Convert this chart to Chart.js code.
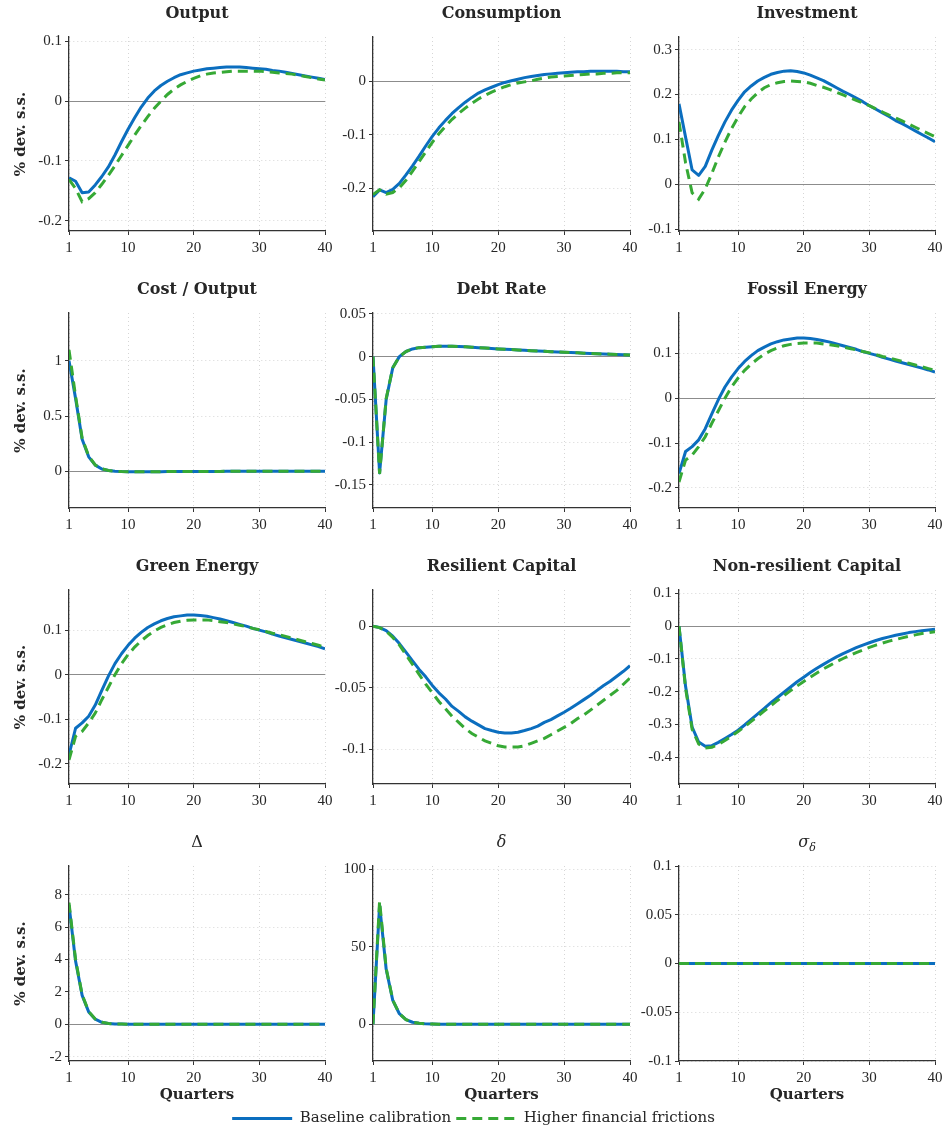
<!DOCTYPE html>
<html>
<head>
<meta charset="utf-8">
<script src="https://cdn.jsdelivr.net/npm/chart.js@4.4.1/dist/chart.umd.min.js"></script>
<style>
  html, body { margin: 0; padding: 0; background: #fff; }
  #fig { position: relative; width: 947px; height: 1131px; overflow: hidden; }
  #fig canvas { position: absolute; }
</style>
</head>
<body>
<div id="fig"></div>
<script>
const quarters = [1, 2, 3, 4, 5, 6, 7, 8, 9, 10, 11, 12, 13, 14, 15, 16, 17, 18, 19, 20,
                  21, 22, 23, 24, 25, 26, 27, 28, 29, 30, 31, 32, 33, 34, 35, 36, 37, 38, 39, 40];
const seriesNames = ['Baseline calibration', 'Higher financial frictions'];
const xTicks = [1, 10, 20, 30, 40];

// Output
const outputBase = [-0.128, -0.134, -0.153, -0.152, -0.140, -0.126, -0.110, -0.090, -0.068, -0.047,
                    -0.028, -0.010, 0.005, 0.017, 0.026, 0.033, 0.039, 0.044, 0.047, 0.050,
                    0.052, 0.054, 0.055, 0.056, 0.057, 0.057, 0.057, 0.056, 0.055, 0.054,
                    0.053, 0.051, 0.050, 0.048, 0.046, 0.044, 0.042, 0.040, 0.038, 0.036];
const outputHigh = [-0.131, -0.146, -0.168, -0.163, -0.153, -0.139, -0.124, -0.108, -0.091, -0.074,
                    -0.057, -0.041, -0.026, -0.012, 0.000, 0.011, 0.020, 0.027, 0.033, 0.038,
                    0.042, 0.045, 0.047, 0.048, 0.049, 0.050, 0.050, 0.050, 0.050, 0.050,
                    0.049, 0.048, 0.047, 0.046, 0.045, 0.043, 0.041, 0.039, 0.037, 0.035];
const outputTicks = [-0.2, -0.1, 0, 0.1];

// Consumption
const consBase = [-0.216, -0.203, -0.208, -0.202, -0.191, -0.175, -0.158, -0.140, -0.121, -0.103,
                  -0.087, -0.073, -0.060, -0.049, -0.039, -0.030, -0.022, -0.016, -0.011, -0.006,
                  -0.002, 0.001, 0.004, 0.007, 0.009, 0.011, 0.013, 0.014, 0.015, 0.016,
                  0.017, 0.018, 0.018, 0.019, 0.019, 0.019, 0.019, 0.019, 0.018, 0.018];
const consHigh = [-0.212, -0.203, -0.211, -0.208, -0.199, -0.185, -0.168, -0.150, -0.132, -0.114,
                  -0.098, -0.084, -0.071, -0.060, -0.050, -0.041, -0.033, -0.026, -0.020, -0.015,
                  -0.010, -0.006, -0.003, -0.001, 0.001, 0.004, 0.006, 0.008, 0.009, 0.010,
                  0.011, 0.012, 0.013, 0.014, 0.014, 0.015, 0.015, 0.016, 0.016, 0.016];
const consTicks = [-0.2, -0.1, 0];

// Investment
const invBase = [0.179, 0.105, 0.032, 0.020, 0.040, 0.076, 0.109, 0.139, 0.165, 0.187,
                 0.206, 0.219, 0.230, 0.238, 0.245, 0.249, 0.252, 0.253, 0.251, 0.248,
                 0.243, 0.237, 0.231, 0.223, 0.215, 0.207, 0.200, 0.192, 0.184, 0.175,
                 0.167, 0.159, 0.151, 0.142, 0.135, 0.127, 0.119, 0.111, 0.103, 0.095];
const invHigh = [0.139, 0.048, -0.019, -0.033, -0.010, 0.024, 0.061, 0.094, 0.124, 0.150,
                 0.173, 0.190, 0.204, 0.215, 0.222, 0.226, 0.229, 0.230, 0.229, 0.228,
                 0.225, 0.220, 0.216, 0.211, 0.205, 0.199, 0.193, 0.187, 0.181, 0.175,
                 0.168, 0.161, 0.154, 0.148, 0.141, 0.134, 0.127, 0.120, 0.113, 0.106];
const invTicks = [-0.1, 0, 0.1, 0.2, 0.3];

// Cost / Output
const costBase = [1.00, 0.66, 0.29, 0.13, 0.055, 0.020, 0.006, 0.000, -0.004, -0.005,
                  -0.006, -0.006, -0.006, -0.005, -0.005, -0.004, -0.004, -0.003, -0.003, -0.003,
                  -0.002, -0.002, -0.002, -0.002, -0.001, -0.001, -0.001, -0.001, -0.001, -0.001,
                  0.000, 0.000, 0.000, 0.000, 0.000, 0.000, 0.000, 0.000, 0.000, 0.000];
const costHigh = [1.10, 0.68, 0.30, 0.135, 0.056, 0.021, 0.006, 0.000, -0.004, -0.005,
                  -0.006, -0.006, -0.006, -0.005, -0.005, -0.004, -0.004, -0.003, -0.003, -0.003,
                  -0.002, -0.002, -0.002, -0.002, -0.001, -0.001, -0.001, -0.001, -0.001, -0.001,
                  0.000, 0.000, 0.000, 0.000, 0.000, 0.000, 0.000, 0.000, 0.000, 0.000];
const costTicks = [0, 0.5, 1];

// Debt Rate
const debtBase = [0.000, -0.136, -0.050, -0.013, 0.000, 0.006, 0.009, 0.0105, 0.011, 0.0115,
                  0.012, 0.012, 0.012, 0.0118, 0.0114, 0.011, 0.0105, 0.010, 0.0095, 0.009,
                  0.0086, 0.0082, 0.0078, 0.0074, 0.007, 0.0066, 0.0062, 0.0058, 0.0054, 0.005,
                  0.0047, 0.0044, 0.004, 0.0037, 0.0034, 0.0031, 0.0028, 0.0025, 0.0022, 0.002];
const debtHigh = [0.000, -0.137, -0.049, -0.013, 0.000, 0.006, 0.009, 0.0105, 0.011, 0.0115,
                  0.012, 0.012, 0.012, 0.0118, 0.0114, 0.011, 0.0105, 0.010, 0.0095, 0.009,
                  0.0086, 0.0082, 0.0078, 0.0074, 0.007, 0.0066, 0.0062, 0.0058, 0.0054, 0.005,
                  0.0047, 0.0044, 0.004, 0.0037, 0.0034, 0.0031, 0.0028, 0.0025, 0.0022, 0.002];
const debtTicks = [-0.15, -0.1, -0.05, 0, 0.05];

// Fossil Energy
const fossilBase = [-0.168, -0.119, -0.108, -0.093, -0.068, -0.035, -0.003, 0.025, 0.047, 0.066,
                    0.082, 0.095, 0.106, 0.114, 0.121, 0.126, 0.130, 0.132, 0.134, 0.134,
                    0.133, 0.131, 0.128, 0.125, 0.121, 0.117, 0.113, 0.109, 0.104, 0.100,
                    0.096, 0.091, 0.087, 0.083, 0.079, 0.075, 0.071, 0.067, 0.063, 0.058];
const fossilHigh = [-0.187, -0.138, -0.127, -0.108, -0.086, -0.056, -0.028, 0.000, 0.025, 0.045,
                    0.062, 0.076, 0.088, 0.098, 0.106, 0.112, 0.117, 0.120, 0.122, 0.123,
                    0.123, 0.123, 0.121, 0.119, 0.117, 0.114, 0.111, 0.108, 0.104, 0.101,
                    0.097, 0.093, 0.090, 0.086, 0.082, 0.078, 0.074, 0.070, 0.066, 0.062];
const fossilTicks = [-0.2, -0.1, 0, 0.1];

// Green Energy
const greenBase = [-0.180, -0.120, -0.108, -0.093, -0.068, -0.035, -0.003, 0.025, 0.047, 0.066,
                   0.082, 0.095, 0.106, 0.114, 0.121, 0.126, 0.130, 0.132, 0.134, 0.134,
                   0.133, 0.131, 0.128, 0.125, 0.121, 0.117, 0.113, 0.109, 0.104, 0.100,
                   0.096, 0.091, 0.087, 0.083, 0.079, 0.075, 0.071, 0.067, 0.063, 0.058];
const greenHigh = [-0.191, -0.138, -0.127, -0.108, -0.086, -0.056, -0.028, 0.000, 0.025, 0.045,
                   0.062, 0.076, 0.088, 0.098, 0.106, 0.112, 0.117, 0.120, 0.122, 0.123,
                   0.123, 0.123, 0.121, 0.119, 0.117, 0.114, 0.111, 0.108, 0.104, 0.101,
                   0.097, 0.093, 0.090, 0.086, 0.082, 0.078, 0.074, 0.070, 0.066, 0.062];
const greenTicks = [-0.2, -0.1, 0, 0.1];

// Resilient Capital
const resBase = [0.000, -0.001, -0.0035, -0.008, -0.014, -0.021, -0.028, -0.035, -0.041, -0.048,
                 -0.054, -0.059, -0.065, -0.069, -0.0735, -0.077, -0.080, -0.083, -0.0846, -0.086,
                 -0.0865, -0.0865, -0.086, -0.0846, -0.083, -0.081, -0.078, -0.0757, -0.0727, -0.0697,
                 -0.0665, -0.063, -0.0595, -0.056, -0.052, -0.048, -0.0446, -0.0405, -0.0365, -0.032];
const resHigh = [0.000, -0.001, -0.004, -0.009, -0.015, -0.023, -0.031, -0.039, -0.047, -0.054,
                 -0.061, -0.067, -0.073, -0.078, -0.083, -0.087, -0.090, -0.093, -0.095, -0.097,
                 -0.098, -0.098, -0.098, -0.097, -0.095, -0.093, -0.091, -0.088, -0.085, -0.082,
                 -0.079, -0.075, -0.072, -0.068, -0.064, -0.060, -0.056, -0.052, -0.047, -0.042];
const resTicks = [-0.1, -0.05, 0];

// Non-resilient Capital
const nonresBase = [0.000, -0.184, -0.308, -0.354, -0.367, -0.365, -0.355, -0.343, -0.331, -0.318,
                    -0.302, -0.285, -0.268, -0.251, -0.234, -0.218, -0.202, -0.186, -0.170, -0.156,
                    -0.142, -0.129, -0.117, -0.105, -0.094, -0.084, -0.075, -0.066, -0.058, -0.051,
                    -0.044, -0.038, -0.033, -0.028, -0.024, -0.020, -0.017, -0.014, -0.012, -0.010];
const nonresHigh = [0.000, -0.190, -0.315, -0.360, -0.372, -0.370, -0.361, -0.349, -0.336, -0.322,
                    -0.307, -0.291, -0.275, -0.259, -0.243, -0.227, -0.212, -0.197, -0.183, -0.169,
                    -0.156, -0.143, -0.131, -0.120, -0.109, -0.099, -0.090, -0.081, -0.073, -0.065,
                    -0.058, -0.052, -0.046, -0.041, -0.036, -0.031, -0.027, -0.023, -0.020, -0.017];
const nonresTicks = [-0.4, -0.3, -0.2, -0.1, 0, 0.1];

// Delta (capital letter)
const bigDeltaBase = [7.35, 3.90, 1.78, 0.76, 0.31, 0.12, 0.05, 0.02, 0.01, 0,
                      0, 0, 0, 0, 0, 0, 0, 0, 0, 0,
                      0, 0, 0, 0, 0, 0, 0, 0, 0, 0,
                      0, 0, 0, 0, 0, 0, 0, 0, 0, 0];
const bigDeltaHigh = [7.50, 4.00, 1.82, 0.78, 0.32, 0.13, 0.05, 0.02, 0.01, 0,
                      0, 0, 0, 0, 0, 0, 0, 0, 0, 0,
                      0, 0, 0, 0, 0, 0, 0, 0, 0, 0,
                      0, 0, 0, 0, 0, 0, 0, 0, 0, 0];
const bigDeltaTicks = [-2, 0, 2, 4, 6, 8];

// delta (small letter)
const deltaBase = [0, 77.0, 35.5, 15.4, 6.8, 3.0, 1.3, 0.6, 0.25, 0.1,
                   0, 0, 0, 0, 0, 0, 0, 0, 0, 0,
                   0, 0, 0, 0, 0, 0, 0, 0, 0, 0,
                   0, 0, 0, 0, 0, 0, 0, 0, 0, 0];
const deltaHigh = [0, 79.4, 36.1, 15.6, 6.9, 3.0, 1.3, 0.6, 0.25, 0.1,
                   0, 0, 0, 0, 0, 0, 0, 0, 0, 0,
                   0, 0, 0, 0, 0, 0, 0, 0, 0, 0,
                   0, 0, 0, 0, 0, 0, 0, 0, 0, 0];
const deltaTicks = [0, 50, 100];

// sigma_delta
const sigmaBase = [0, 0, 0, 0, 0, 0, 0, 0, 0, 0,
                   0, 0, 0, 0, 0, 0, 0, 0, 0, 0,
                   0, 0, 0, 0, 0, 0, 0, 0, 0, 0,
                   0, 0, 0, 0, 0, 0, 0, 0, 0, 0];
const sigmaHigh = [0, 0, 0, 0, 0, 0, 0, 0, 0, 0,
                   0, 0, 0, 0, 0, 0, 0, 0, 0, 0,
                   0, 0, 0, 0, 0, 0, 0, 0, 0, 0,
                   0, 0, 0, 0, 0, 0, 0, 0, 0, 0];
const sigmaTicks = [-0.1, -0.05, 0, 0.05, 0.1];

const BLUE = '#0b6ebf';
const GREEN = '#36a935';
const TEXT = '#262626';
const SERIF = "'Liberation Serif', 'DejaVu Serif', serif";
const DJ = "'DejaVu Serif', serif";

const panels = [
    { title: 'Output', base: outputBase, high: outputHigh, ticks: outputTicks, range: [-0.217, 0.107] },
    { title: 'Consumption', base: consBase, high: consHigh, ticks: consTicks, range: [-0.28, 0.083] },
    { title: 'Investment', base: invBase, high: invHigh, ticks: invTicks, range: [-0.104, 0.328] },
    { title: 'Cost / Output', base: costBase, high: costHigh, ticks: costTicks, range: [-0.334, 1.434] },
    { title: 'Debt Rate', base: debtBase, high: debtHigh, ticks: debtTicks, range: [-0.177, 0.051] },
    { title: 'Fossil Energy', base: fossilBase, high: fossilHigh, ticks: fossilTicks, range: [-0.245, 0.19] },
    { title: 'Green Energy', base: greenBase, high: greenHigh, ticks: greenTicks, range: [-0.245, 0.19] },
    { title: 'Resilient Capital', base: resBase, high: resHigh, ticks: resTicks, range: [-0.128, 0.0295] },
    { title: 'Non-resilient Capital', base: nonresBase, high: nonresHigh, ticks: nonresTicks, range: [-0.482, 0.11] },
    { title: 'Δ', font: '16px ' + DJ, base: bigDeltaBase, high: bigDeltaHigh, ticks: bigDeltaTicks, range: [-2.27, 9.77] },
    { title: 'δ', font: 'italic 16px ' + DJ, base: deltaBase, high: deltaHigh, ticks: deltaTicks, range: [-23.7, 102.1] },
    { title: 'σ', sub: 'δ', font: 'italic 16px ' + DJ, base: sigmaBase, high: sigmaHigh, ticks: sigmaTicks, range: [-0.1, 0.1] }
];

// plot-area edges in the figure
const colLeft = [69, 373, 679];
const colRight = [325, 630, 935];
const rowTop = [37, 313, 590, 866];
const rowBottom = [231, 508, 784, 1061];

// draws the panel heading centred over the plot area
const panelTitle = {
    id: 'panelTitle',
    afterDraw(chart, args, opts) {
        const { ctx, chartArea } = chart;
        const cx = (chartArea.left + chartArea.right) / 2;
        const y = chartArea.top - 23;
        ctx.save();
        ctx.fillStyle = TEXT;
        ctx.textBaseline = 'middle';
        ctx.font = opts.font;
        if (opts.sub) {
            const w1 = ctx.measureText(opts.text).width;
            ctx.font = opts.subFont;
            const w2 = ctx.measureText(opts.sub).width;
            const x0 = cx - (w1 + w2) / 2;
            ctx.textAlign = 'left';
            ctx.font = opts.font;
            ctx.fillText(opts.text, x0, y);
            ctx.font = opts.subFont;
            ctx.fillText(opts.sub, x0 + w1, y + 5);
        } else {
            ctx.textAlign = 'center';
            ctx.fillText(opts.text, cx, y);
        }
        ctx.restore();
    }
};

function toPoints(values) {
    return quarters.map((q, i) => ({ x: q, y: values[i] }));
}

const fig = document.getElementById('fig');

panels.forEach((p, i) => {
    const r = Math.floor(i / 3);
    const c = i % 3;
    const firstCol = c === 0;
    const lastRow = r === 3;
    const canvasLeft = firstCol ? 0 : colLeft[c] - 62;
    const yAxisW = colLeft[c] - canvasLeft;
    const padTop = 34;
    const padRight = c === 2 ? 12 : 14;
    const xAxisH = lastRow ? 46 : 26;
    const w = colRight[c] - canvasLeft + padRight;
    const h = rowBottom[r] - rowTop[r] + padTop + xAxisH;

    const cv = document.createElement('canvas');
    cv.width = w;
    cv.height = h;
    cv.style.left = canvasLeft + 'px';
    cv.style.top = (rowTop[r] - padTop) + 'px';
    cv.style.width = w + 'px';
    cv.style.height = h + 'px';
    fig.appendChild(cv);

    new Chart(cv, {
        type: 'line',
        data: {
            datasets: [{
                label: seriesNames[0],
                data: toPoints(p.base),
                borderColor: BLUE,
                borderWidth: 3,
                borderJoinStyle: 'round',
                pointRadius: 0,
                tension: 0,
                fill: false,
                order: 1
            }, {
                label: seriesNames[1],
                data: toPoints(p.high),
                borderColor: GREEN,
                borderWidth: 3,
                borderDash: [10, 6],
                pointRadius: 0,
                tension: 0,
                fill: false,
                order: 0
            }]
        },
        options: {
            responsive: false,
            animation: false,
            devicePixelRatio: 1,
            events: [],
            layout: { padding: { top: padTop, right: padRight, left: 0, bottom: 0 } },
            scales: {
                x: {
                    type: 'linear',
                    min: 1,
                    max: 40,
                    bounds: 'data',
                    afterBuildTicks: s => { s.ticks = xTicks.map(v => ({ value: v })); },
                    afterFit: s => { s.height = xAxisH; },
                    grid: { color: '#d6d6d6', lineWidth: 1, tickLength: 4, tickColor: '#333' },
                    border: { color: '#333', width: 1.3, dash: [1, 3] },
                    ticks: { font: { family: SERIF, size: 15 }, color: TEXT, padding: 4, maxRotation: 0, autoSkip: false },
                    title: {
                        display: lastRow,
                        text: 'Quarters',
                        color: TEXT,
                        font: { family: DJ, size: 15, weight: 'bold' },
                        padding: { top: 0, bottom: 3 }
                    }
                },
                y: {
                    min: p.range[0],
                    max: p.range[1],
                    bounds: 'data',
                    afterBuildTicks: s => { s.ticks = p.ticks.map(v => ({ value: v })); },
                    afterFit: s => { s.width = yAxisW; },
                    grid: {
                        color: ctx => (ctx.tick && ctx.tick.value === 0) ? '#8c8c8c' : '#d6d6d6',
                        lineWidth: 1,
                        tickLength: 4,
                        tickColor: '#333'
                    },
                    border: {
                        color: '#333',
                        width: 1.3,
                        dash: ctx => (ctx.tick && ctx.tick.value === 0) ? [] : [1, 3]
                    },
                    ticks: {
                        font: { family: SERIF, size: 15 },
                        color: TEXT,
                        padding: 3,
                        autoSkip: false,
                        callback: v => String(v)
                    },
                    title: {
                        display: firstCol,
                        text: '% dev. s.s.',
                        color: TEXT,
                        font: { family: DJ, size: 15, weight: 'bold' },
                        padding: { top: 12, bottom: 0 }
                    }
                }
            },
            plugins: {
                legend: { display: false },
                tooltip: { enabled: false },
                panelTitle: {
                    text: p.title,
                    sub: p.sub,
                    font: p.font || ('bold 16px ' + DJ),
                    subFont: 'italic 11px ' + DJ
                }
            }
        },
        plugins: [panelTitle]
    });
});

// shared legend under the grid (canvas kept tall: a top legend may use at most half the height)
const lc = document.createElement('canvas');
lc.width = 947;
lc.height = 60;
lc.style.left = '0px';
lc.style.top = '1106px';
lc.style.width = '947px';
lc.style.height = '60px';
fig.appendChild(lc);

new Chart(lc, {
    type: 'line',
    data: {
        datasets: [
            { label: seriesNames[0], data: [], borderColor: BLUE, backgroundColor: BLUE, borderWidth: 3 },
            { label: seriesNames[1], data: [], borderColor: GREEN, backgroundColor: GREEN, borderWidth: 3, borderDash: [10, 6] }
        ]
    },
    options: {
        responsive: false,
        maintainAspectRatio: false,
        animation: false,
        devicePixelRatio: 1,
        events: [],
        layout: { padding: 0 },
        scales: { x: { display: false }, y: { display: false } },
        plugins: {
            tooltip: { enabled: false },
            legend: {
                display: true,
                position: 'top',
                labels: {
                    usePointStyle: true,
                    pointStyle: 'line',
                    pointStyleWidth: 60,
                    padding: 5,
                    color: TEXT,
                    font: { family: DJ, size: 15 },
                    generateLabels: chart => Chart.defaults.plugins.legend.labels.generateLabels(chart).map(item => {
                        const ds = chart.data.datasets[item.datasetIndex];
                        return Object.assign(item, {
                            lineDash: ds.borderDash || [],
                            lineWidth: 3,
                            strokeStyle: ds.borderColor,
                            fillStyle: ds.borderColor,
                            pointStyle: 'line'
                        });
                    })
                }
            }
        }
    }
});
</script>
</body>
</html>
